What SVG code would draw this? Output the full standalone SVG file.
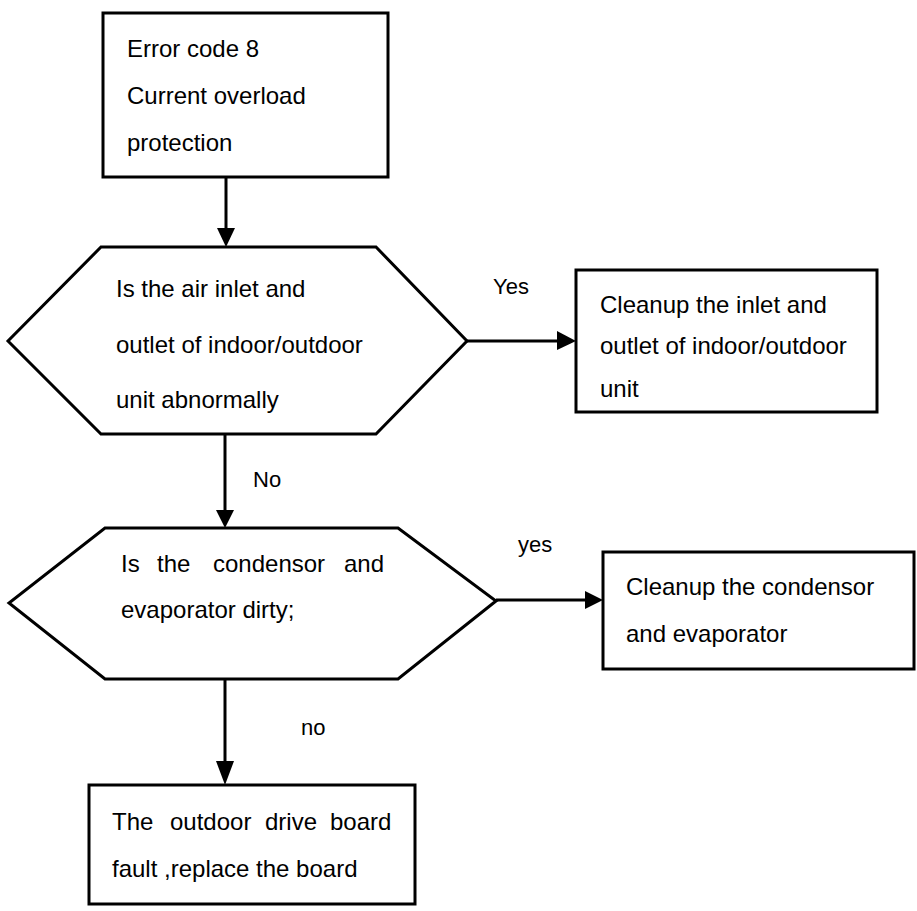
<svg xmlns="http://www.w3.org/2000/svg" width="917" height="911" viewBox="0 0 917 911">
<style>
.shape{fill:#fff;stroke:#000;stroke-width:3}
.conn{stroke:#000;stroke-width:3;fill:none}
text{font-family:"Liberation Sans",Arial,sans-serif;font-size:24px;fill:#000}
.lbl{font-size:22px}
</style>
<defs>
<marker id="arr" markerWidth="10" markerHeight="10" refX="10" refY="5" orient="auto" markerUnits="userSpaceOnUse" viewBox="0 0 10 10">
<path d="M0,0 L10,5 L0,10 Z" fill="#000"/>
</marker>
</defs>
<rect width="917" height="911" fill="#fff"/>
<g id="connectors">
<line class="conn" x1="226" y1="177" x2="226" y2="229"/>
<path d="M217,228 L235,228 L226,247 Z" fill="#000"/>
<line class="conn" x1="467" y1="341" x2="558" y2="341"/>
<path d="M557,331 L576,341 L557,350 Z" fill="#000"/>
<line class="conn" x1="225" y1="434" x2="225" y2="511"/>
<path d="M216,510 L234,510 L225,528 Z" fill="#000"/>
<line class="conn" x1="496" y1="600" x2="586" y2="600"/>
<path d="M585,591 L603,600 L585,609 Z" fill="#000"/>
<line class="conn" x1="225" y1="675" x2="225" y2="762"/>
<path d="M216,761 L234,761 L225,785 Z" fill="#000"/>
<text class="lbl" x="493" y="294">Yes</text>
<text class="lbl" x="253" y="487">No</text>
<text class="lbl" x="518" y="552">yes</text>
<text class="lbl" x="301" y="735">no</text>
</g>
<g id="start">
<rect class="shape" x="103" y="13" width="285" height="164"/>
<text x="127" y="57">Error code 8</text>
<text x="127" y="104">Current overload</text>
<text x="127" y="151">protection</text>
</g>
<g id="decision1">
<polygon class="shape" points="101,247 376,247 467,341 376,434 101,434 8,341"/>
<text x="116" y="297">Is the air inlet and</text>
<text x="116" y="353">outlet of indoor/outdoor</text>
<text x="116" y="408">unit abnormally</text>
</g>
<g id="cleanup1">
<rect class="shape" x="576" y="270" width="301" height="142"/>
<text x="600" y="313">Cleanup the inlet and</text>
<text x="600" y="354">outlet of indoor/outdoor</text>
<text x="600" y="397">unit</text>
</g>
<g id="decision2">
<polygon class="shape" points="105,528 398,528 496,601 398,679 105,679 9,603"/>
<text y="572"><tspan x="121">Is</tspan><tspan x="157">the</tspan><tspan x="213">condensor</tspan><tspan x="344">and</tspan></text>
<text x="121" y="618">evaporator dirty;</text>
</g>
<g id="cleanup2">
<rect class="shape" x="603" y="552" width="311" height="117"/>
<text x="626" y="595">Cleanup the condensor</text>
<text x="626" y="642">and evaporator</text>
</g>
<g id="replace">
<rect class="shape" x="89" y="785" width="326" height="119"/>
<text y="830"><tspan x="112">The</tspan><tspan x="170">outdoor</tspan><tspan x="265">drive</tspan><tspan x="330">board</tspan></text>
<text x="112" y="877">fault ,replace the board</text>
</g>
</svg>
